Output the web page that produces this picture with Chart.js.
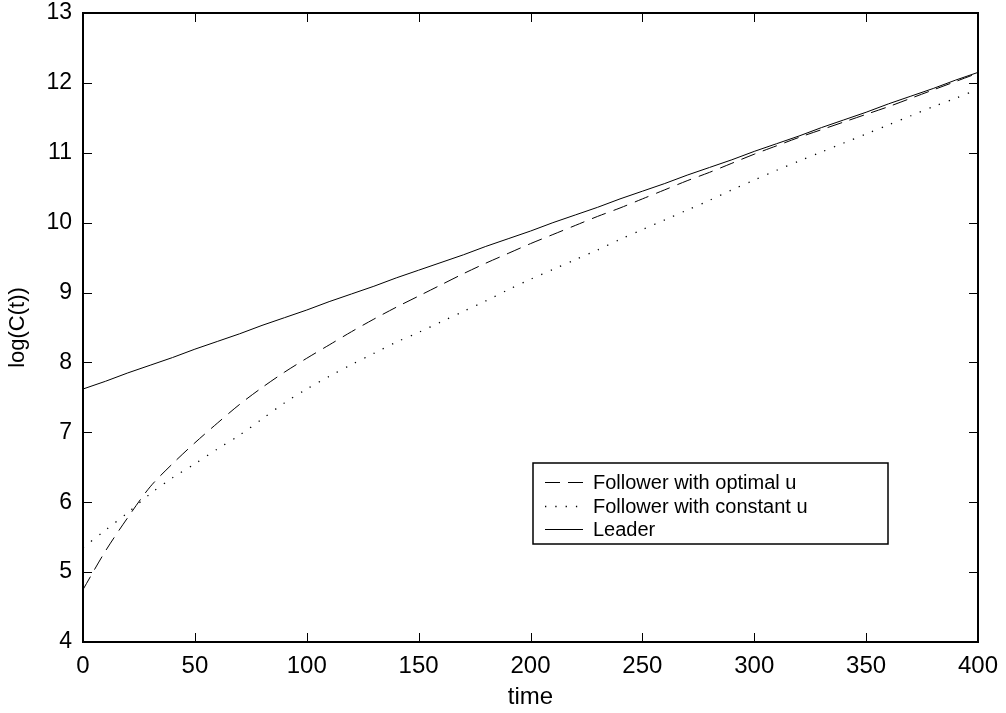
<!DOCTYPE html>
<html>
<head>
<meta charset="utf-8">
<script src="https://cdn.jsdelivr.net/npm/chart.js@4/dist/chart.umd.min.js"></script>
<style>
  body { margin: 0; background: #fff; }
  #wrap { width: 1006px; height: 713px; }
</style>
</head>
<body>
<div id="wrap"><canvas id="chart" width="1006" height="713"></canvas></div>
<script>
// time points
const times = [0, 10, 20, 30, 40, 50, 60, 70, 80, 90, 100, 110, 120, 130, 140, 150, 160, 170, 180, 190, 200,
               210, 220, 230, 240, 250, 260, 270, 280, 290, 300, 310, 320, 330, 340, 350, 360, 370, 380, 390, 400];

// log(C(t)) values
const followerOptimal = [4.75, 5.30, 5.78, 6.22, 6.55, 6.85, 7.13, 7.40, 7.64, 7.86, 8.06, 8.25, 8.44, 8.62, 8.79, 8.95,
                         9.11, 9.27, 9.42, 9.56, 9.70, 9.83, 9.96, 10.09, 10.21, 10.34, 10.47, 10.60, 10.72, 10.85, 10.98,
                         11.10, 11.22, 11.33, 11.44, 11.55, 11.66, 11.78, 11.90, 12.02, 12.14];
const followerConstant = [5.35, 5.60, 5.85, 6.12, 6.35, 6.55, 6.76, 6.96, 7.19, 7.42, 7.62, 7.80, 7.97, 8.13, 8.29, 8.43,
                          8.58, 8.73, 8.88, 9.04, 9.19, 9.33, 9.47, 9.61, 9.76, 9.90, 10.04, 10.18, 10.32, 10.47, 10.61,
                          10.75, 10.88, 11.01, 11.14, 11.27, 11.40, 11.53, 11.66, 11.78, 11.91];
const leader = [7.62, 7.73, 7.85, 7.96, 8.07, 8.19, 8.30, 8.41, 8.53, 8.64, 8.75, 8.87, 8.98, 9.09, 9.21, 9.32,
                9.43, 9.54, 9.66, 9.77, 9.88, 10.00, 10.11, 10.22, 10.34, 10.45, 10.56, 10.68, 10.79, 10.90, 11.02,
                11.13, 11.24, 11.36, 11.47, 11.58, 11.70, 11.81, 11.92, 12.04, 12.15];

const seriesLabels = ['Follower with optimal u', 'Follower with constant u', 'Leader'];
const xTicks = [0, 50, 100, 150, 200, 250, 300, 350, 400];
const yTicks = [4, 5, 6, 7, 8, 9, 10, 11, 12, 13];

const FONT = 'Arial, "Liberation Sans", Helvetica, sans-serif';

function toPoints(vals) {
    return times.map((t, i) => ({ x: t, y: vals[i] }));
}

// box around the plot and ticks pointing inward on all four sides
const boxTicks = {
    id: 'boxTicks',
    afterDraw(chart) {
        const ctx = chart.ctx;
        const a = chart.chartArea;
        const xs = chart.scales.x, ys = chart.scales.y;
        const len = 9;
        ctx.save();
        ctx.strokeStyle = '#000';
        ctx.lineWidth = 1;
        ctx.beginPath();
        xTicks.forEach(v => {
            const px = Math.round(xs.getPixelForValue(v)) + 0.5;
            ctx.moveTo(px, a.bottom); ctx.lineTo(px, a.bottom - len);
            ctx.moveTo(px, a.top); ctx.lineTo(px, a.top + len);
        });
        yTicks.forEach(v => {
            const py = Math.round(ys.getPixelForValue(v)) + 0.5;
            ctx.moveTo(a.left, py); ctx.lineTo(a.left + len, py);
            ctx.moveTo(a.right, py); ctx.lineTo(a.right - len, py);
        });
        ctx.stroke();
        ctx.lineWidth = 2;
        ctx.strokeRect(a.left, a.top, a.right - a.left, a.bottom - a.top);
        ctx.restore();
    }
};

// legend box in the lower right, like the original
const boxLegend = {
    id: 'boxLegend',
    afterDraw(chart) {
        const ctx = chart.ctx;
        const bx = 533, by = 463, bw = 355, bh = 81;
        const rows = [482, 506, 529];
        ctx.save();
        ctx.fillStyle = '#fff';
        ctx.fillRect(bx, by, bw, bh);
        ctx.strokeStyle = '#000';
        ctx.lineWidth = 1.5;
        ctx.strokeRect(bx, by, bw, bh);
        ctx.font = '20px ' + FONT;
        ctx.textBaseline = 'middle';
        chart.data.datasets.forEach((ds, i) => {
            const y = rows[i];
            ctx.beginPath();
            ctx.setLineDash(ds.borderDash || []);
            ctx.lineWidth = ds.borderWidth;
            ctx.strokeStyle = ds.borderColor;
            ctx.moveTo(545, y + 0.5);
            ctx.lineTo(583, y + 0.5);
            ctx.stroke();
            ctx.setLineDash([]);
            ctx.fillStyle = '#000';
            ctx.fillText(ds.label, 593, y + 1);
        });
        ctx.restore();
    }
};

new Chart(document.getElementById('chart'), {
    type: 'line',
    data: {
        datasets: [
            { label: seriesLabels[0], data: toPoints(followerOptimal), borderColor: '#000', borderWidth: 1,
              borderDash: [15, 8], pointRadius: 0, tension: 0.3, fill: false },
            { label: seriesLabels[1], data: toPoints(followerConstant), borderColor: '#000', borderWidth: 1.3,
              borderDash: [1.3, 9], pointRadius: 0, tension: 0.3, fill: false },
            { label: seriesLabels[2], data: toPoints(leader), borderColor: '#000', borderWidth: 1,
              pointRadius: 0, tension: 0, fill: false }
        ]
    },
    options: {
        responsive: false,
        animation: false,
        layout: { padding: { left: 0, right: 28, top: 13, bottom: 0 } },
        plugins: {
            legend: { display: false },
            tooltip: { enabled: false }
        },
        scales: {
            x: {
                type: 'linear', min: 0, max: 400,
                afterBuildTicks(scale) { scale.ticks = xTicks.map(v => ({ value: v })); },
                afterFit(scale) { scale.height = 71; scale.paddingLeft = 0; scale.paddingRight = 0; },
                grid: { display: false, drawTicks: false },
                border: { display: false },
                ticks: { color: '#000', font: { family: FONT, size: 24 }, padding: 10, maxRotation: 0 },
                title: { display: true, text: 'time', color: '#000', font: { family: FONT, size: 24 }, padding: { top: 0, bottom: 1 } }
            },
            y: {
                min: 4, max: 13,
                afterBuildTicks(scale) { scale.ticks = yTicks.map(v => ({ value: v })); },
                afterFit(scale) { scale.width = 83; scale.paddingTop = 0; scale.paddingBottom = 0; },
                grid: { display: false, drawTicks: false },
                border: { display: false },
                ticks: { color: '#000', font: { family: FONT, size: 23 }, padding: 11 },
                title: { display: true, text: 'log(C(t))', color: '#000', font: { family: FONT, size: 22 }, padding: { top: 5, bottom: 0 } }
            }
        }
    },
    plugins: [boxTicks, boxLegend]
});
</script>
</body>
</html>
